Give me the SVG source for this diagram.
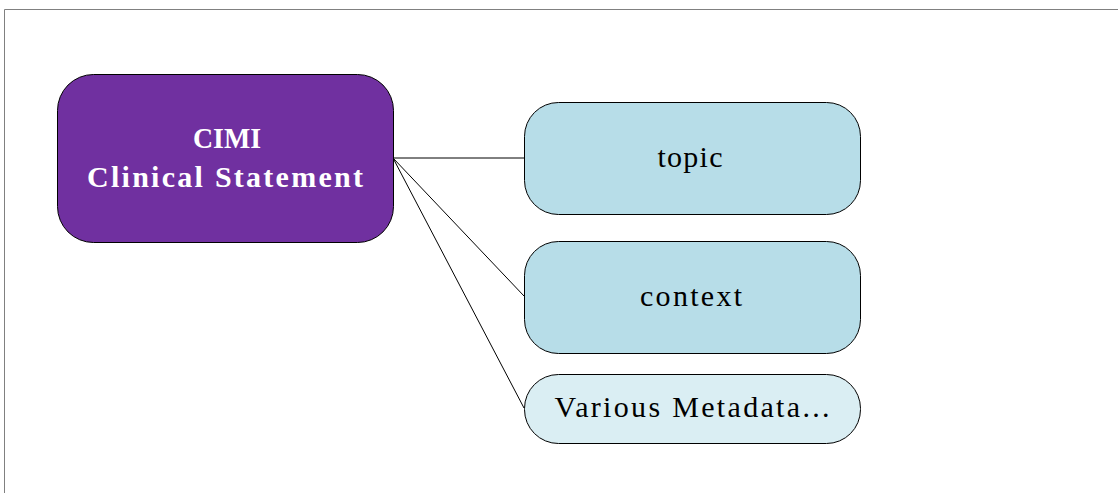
<svg xmlns="http://www.w3.org/2000/svg" width="1118" height="493" viewBox="0 0 1118 493">
<style>
.frame{fill:none;stroke:#808080;stroke-width:1}
.node{stroke:#000;stroke-width:1}
.main{fill:#7030A0}
.blue{fill:#B7DDE8}
.light{fill:#DAEEF3}
.conn{stroke:#000;stroke-width:1;fill:none}
.t{font-family:"Liberation Serif",serif;text-anchor:middle}
.w{fill:#fff;font-weight:bold;font-size:30px}
.b{fill:#000;font-size:30px}
</style>
<path class="frame" d="M4.5,493 V9.5 H1118"/>
<g id="connectors">
<line class="conn" x1="393" y1="158" x2="524" y2="158"/>
<line class="conn" x1="393" y1="158" x2="524" y2="296"/>
<line class="conn" x1="393" y1="158" x2="524" y2="408"/>
</g>
<g id="cimi">
<rect class="node main" x="57.5" y="74.5" width="336" height="168" rx="36" ry="36"/>
<text class="t w" x="227" y="148" textLength="68" lengthAdjust="spacingAndGlyphs">CIMI</text>
<text class="t w" x="225" y="187" textLength="276" lengthAdjust="spacing">Clinical Statement</text>
</g>
<g id="topic">
<rect class="node blue" x="524.5" y="102.5" width="336" height="112" rx="34" ry="34"/>
<text class="t b" x="690" y="167" textLength="65" lengthAdjust="spacing">topic</text>
</g>
<g id="context">
<rect class="node blue" x="524.5" y="241.5" width="336" height="112" rx="34" ry="34"/>
<text class="t b" x="691" y="306" textLength="102" lengthAdjust="spacing">context</text>
</g>
<g id="metadata">
<rect class="node light" x="524.5" y="374.5" width="336" height="69" rx="34" ry="34"/>
<text class="t b" x="692" y="417" textLength="275" lengthAdjust="spacing">Various Metadata...</text>
</g>
</svg>
